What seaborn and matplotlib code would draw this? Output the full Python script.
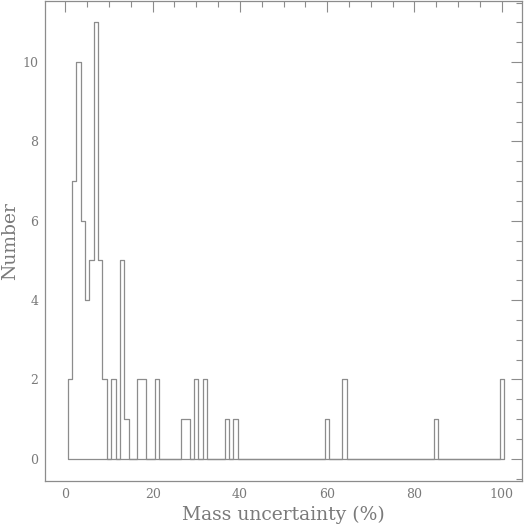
import matplotlib.pyplot as plt
import matplotlib as mpl
import seaborn as sns
import pandas as pd
from matplotlib.ticker import MultipleLocator

# integer mass uncertainty (%) and number of objects in each 1% bin
uncertainty = [1, 2, 3, 4, 5, 6, 7, 8, 9, 11, 13, 14, 17, 18, 21,
               27, 28, 30, 32, 37, 39, 60, 64, 85, 100]
number = [2, 7, 10, 6, 4, 5, 11, 5, 2, 2, 5, 1, 2, 2, 2,
          1, 1, 2, 2, 1, 1, 1, 2, 1, 2]

df = pd.DataFrame({"unc": uncertainty, "n": number})

sns.set_style("white")
plt.rcParams['font.family'] = ['DejaVu Serif', 'DejaVu Sans']
mpl.rcParams['axes.unicode_minus'] = False

grey = '#8c8c8c'
text_grey = '#7a7a7a'

fig = plt.figure(figsize=(5.27, 5.27), dpi=100)
ax = fig.add_axes([0.086, 0.088, 0.905, 0.911])

sns.histplot(data=df, x="unc", weights="n", discrete=True, element="step",
             fill=True, color=grey, ax=ax)
for coll in ax.collections:
    coll.set_facecolor((1, 1, 1, 0))
    coll.set_edgecolor(grey)
    coll.set_linewidth(0.9)

ax.set_xlim(-4.6, 104.7)
ax.set_ylim(-0.55, 11.55)

ax.xaxis.set_major_locator(MultipleLocator(20))
ax.xaxis.set_minor_locator(MultipleLocator(5))
ax.yaxis.set_major_locator(MultipleLocator(2))
ax.yaxis.set_minor_locator(MultipleLocator(0.5))

ax.tick_params(which='both', direction='in', top=True, right=True,
               color=grey, width=0.8, labelcolor=text_grey, labelsize=9)
ax.tick_params(which='major', length=8)
ax.tick_params(which='minor', length=4)
ax.tick_params(axis='x', pad=5)
ax.tick_params(axis='y', pad=5)

for side in ax.spines.values():
    side.set_color(grey)
    side.set_linewidth(0.9)

ax.set_xlabel("Mass uncertainty (%)", fontsize=13.5, color=text_grey)
ax.set_ylabel("Number", fontsize=13.5, color=text_grey)
ax.xaxis.set_label_coords(0.5, -0.053)
ax.yaxis.set_label_coords(-0.054, 0.5)

fig.savefig("out.png", dpi=100)
